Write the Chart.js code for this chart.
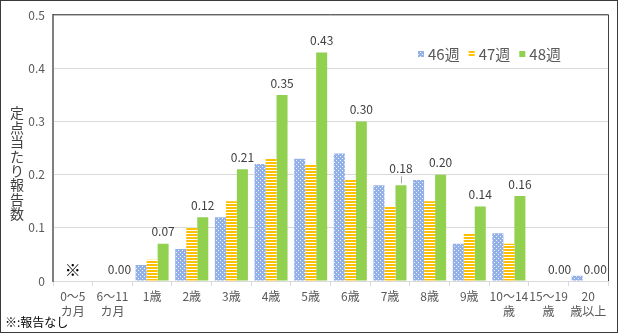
<!DOCTYPE html>
<html>
<head>
<meta charset="utf-8">
<script src="https://cdn.jsdelivr.net/npm/chart.js@4"></script>
<style>
  html, body { margin: 0; padding: 0; background: #fff; }
  #wrap { position: relative; width: 621px; height: 335px; }
</style>
</head>
<body>
<div id="wrap"><canvas id="c" width="621" height="335"></canvas></div>
<script>
// Age groups (multi-line labels as arrays)
const categories = [
  ['0〜5', 'カ月'], ['6〜11', 'カ月'], '1歳', '2歳', '3歳', '4歳', '5歳',
  '6歳', '7歳', '8歳', '9歳', ['10〜14', '歳'], ['15〜19', '歳'], ['20', '歳以上']
];
const seriesNames = ['46週', '47週', '48週'];
// Reports per sentinel site; null = no report
const week46 = [null, 0, 0.03, 0.06, 0.12, 0.22, 0.23, 0.24, 0.18, 0.19, 0.07, 0.09, 0, 0.01];
const week47 = [null, 0, 0.04, 0.10, 0.15, 0.23, 0.22, 0.19, 0.14, 0.15, 0.09, 0.07, 0, 0];
const week48 = [null, 0, 0.07, 0.12, 0.21, 0.35, 0.43, 0.30, 0.18, 0.20, 0.14, 0.16, 0, 0];
const yTicks = [0, 0.1, 0.2, 0.3, 0.4, 0.5];
const yTitle = '定点当たり報告数';
const footnote = '※:報告なし';
const noReportMark = '※';

const FONT = "'Noto Sans CJK JP', 'Noto Sans', sans-serif";

// Fill patterns: dotted blue, striped yellow
function dotPattern() {
  const p = document.createElement('canvas');
  p.width = 4; p.height = 4;
  const g = p.getContext('2d');
  g.fillStyle = '#93b1e6';
  g.fillRect(0, 0, 4, 4);
  g.fillStyle = '#eef3fc';
  g.fillRect(0, 0, 1, 1);
  g.fillRect(2, 2, 1, 1);
  return g.createPattern(p, 'repeat');
}
function stripePattern() {
  const p = document.createElement('canvas');
  p.width = 4; p.height = 3;
  const g = p.getContext('2d');
  g.fillStyle = '#ffffff';
  g.fillRect(0, 0, 4, 3);
  g.fillStyle = '#ffc000';
  g.fillRect(0, 0, 4, 2);
  return g.createPattern(p, 'repeat');
}
const fills = [dotPattern(), stripePattern(), '#92d050'];

const decorations = {
  id: 'decorations',
  afterDraw(chart) {
    const ctx = chart.ctx;
    const area = chart.chartArea;
    ctx.save();

    // Outer frame
    ctx.strokeStyle = '#3a3a3a';
    ctx.lineWidth = 1;
    ctx.strokeRect(0.5, 0.5, 617, 332);

    // Top and right edges of the plot box
    ctx.strokeStyle = '#404040';
    ctx.beginPath();
    ctx.moveTo(area.left, area.top - 0.5);
    ctx.lineTo(area.right + 0.5, area.top - 0.5);
    ctx.lineTo(area.right + 0.5, area.bottom);
    ctx.stroke();

    // Vertical axis title, one character per row
    ctx.fillStyle = '#404040';
    ctx.font = '14px ' + FONT;
    ctx.textAlign = 'center';
    ctx.textBaseline = 'middle';
    const chars = Array.from(yTitle);
    chars.forEach((ch, i) => ctx.fillText(ch, 17, 113 + i * 14.4));

    // Footnote
    ctx.fillStyle = '#000';
    ctx.font = '12px ' + FONT;
    ctx.textAlign = 'left';
    ctx.fillText(footnote, 5, 322);

    // No-report marker on the first category
    const xs = chart.scales.x;
    ctx.font = '16px ' + FONT;
    ctx.textAlign = 'center';
    ctx.fillText(noReportMark, xs.getPixelForValue(0), 270);

    // Value labels above the 48週 bars
    const meta = chart.getDatasetMeta(2);
    const raise = chart.options.plugins.decorations.raise;
    ctx.fillStyle = '#404040';
    ctx.font = '12px ' + FONT;
    week48.forEach((v, i) => {
      if (v === null) return;
      const el = meta.data[i];
      let y = el.y - 12;
      if (raise && raise.index === i) {
        y -= raise.lift;
        ctx.strokeStyle = '#a6a6a6';
        ctx.beginPath();
        ctx.moveTo(el.x + 0.5, y + 8);
        ctx.lineTo(el.x + 0.5, el.y - 2);
        ctx.stroke();
      }
      ctx.fillText(v.toFixed(2), el.x - (i === 1 || i === 13 ? 4 : 0), y);
    });

    // Legend inside the plot area
    ctx.font = '15px ' + FONT;
    ctx.textAlign = 'left';
    let lx = 418;
    const ly = 54;
    seriesNames.forEach((name, i) => {
      ctx.fillStyle = fills[i];
      ctx.fillRect(lx, ly - 3, 6, 6);
      ctx.fillStyle = '#595959';
      ctx.fillText(name, lx + 10, ly);
      lx += 10 + ctx.measureText(name).width + 9;
    });

    ctx.restore();
  }
};

new Chart(document.getElementById('c'), {
  type: 'bar',
  data: {
    labels: categories,
    datasets: [
      { label: seriesNames[0], data: week46, backgroundColor: fills[0] },
      { label: seriesNames[1], data: week47, backgroundColor: fills[1] },
      { label: seriesNames[2], data: week48, backgroundColor: fills[2] }
    ]
  },
  options: {
    responsive: false,
    devicePixelRatio: 1,
    animation: false,
    layout: { padding: { top: 15, right: 13, left: 0, bottom: 0 } },
    datasets: { bar: { categoryPercentage: 0.833, barPercentage: 1.0 } },
    plugins: {
      legend: { display: false },
      tooltip: { enabled: false },
      decorations: { raise: { index: 8, lift: 5 } }
    },
    scales: {
      x: {
        grid: { drawOnChartArea: false, drawTicks: true, tickLength: 5, color: '#d9d9d9', offset: true },
        border: { display: true, color: '#d9d9d9', width: 1 },
        ticks: {
          color: '#595959',
          font: { family: FONT, size: 12, lineHeight: 1.25 },
          padding: 3,
          maxRotation: 0,
          autoSkip: false
        },
        afterFit(scale) { scale.height = 54; }
      },
      y: {
        min: 0,
        max: 0.5,
        afterBuildTicks(scale) { scale.ticks = yTicks.map(v => ({ value: v })); },
        grid: { color: '#d9d9d9', drawTicks: false },
        border: { display: true, color: '#808080', width: 2 },
        ticks: {
          color: '#595959',
          font: { family: FONT, size: 12 },
          padding: 8,
          callback: v => (v === 0 ? '0' : v.toFixed(1))
        },
        afterFit(scale) { scale.width = 53; }
      }
    }
  },
  plugins: [decorations]
});
</script>
</body>
</html>
